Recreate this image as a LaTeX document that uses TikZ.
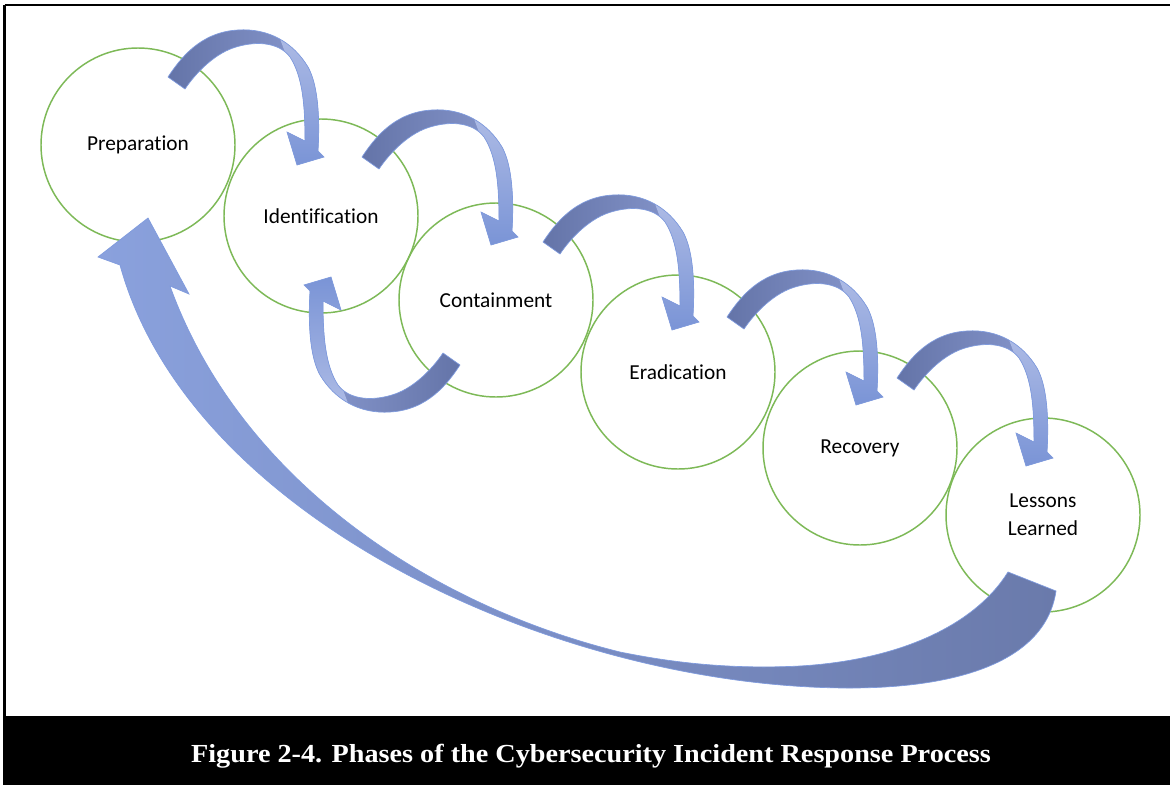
\documentclass[tikz,border=0pt]{standalone}
\usepackage{fontspec}
\setmainfont{Carlito}[Ligatures=NoCommon]
\newfontfamily\capfont{Liberation Serif}
\definecolor{ringgreen}{HTML}{7DB957}
\definecolor{bandedge}{HTML}{7F9BDE}
\definecolor{bandA}{HTML}{6474A8}
\definecolor{bandB}{HTML}{8A9AD0}
\definecolor{bandC}{HTML}{B0BDE6}
\definecolor{bandD}{HTML}{7A94D6}
\definecolor{bigL}{HTML}{8AA1DD}
\definecolor{bigR}{HTML}{6A7AAB}

% outline of one curved phase arrow, in pixel offsets from its tail corner
\newcommand\bandpath{(0,0) .. controls (12,-18) and (32,-45) .. (70,-47)
  .. controls (100,-49) and (125,-35) .. (140,-10)
  .. controls (150,8) and (152,40) .. (150,74)
  -- (156,80) -- (129,88) -- (119,55) -- (137,64)
  .. controls (137,30) and (135,0) .. (122,-20)
  .. controls (110,-36) and (85,-36) .. (65,-29)
  .. controls (45,-22) and (27,-3) .. (17,12) -- cycle}

% #1 tail corner, #2 rotation, #3 shading of the rear part, #4 shading of the front part
\newcommand\phasearrow[4]{%
  \begin{scope}[shift={#1}, rotate=#2]
    \shade[#3] \bandpath;
    \begin{scope}
      \clip (104,-60) -- (200,-60) -- (200,120) -- (100,120) -- (100,20) -- (118,-22) -- cycle;
      \shade[#4] \bandpath;
    \end{scope}
    \draw[bandline] \bandpath;
  \end{scope}}

\begin{document}
\begin{tikzpicture}[x=0.75pt, y=-0.75pt,
  phase/.style={circle, draw=ringgreen, line width=1.1pt, minimum size=145.5pt,
    inner sep=0pt, align=center, font=\fontsize{16}{21}\selectfont},
  bandline/.style={draw=bandedge, line width=0.5pt},
  reardown/.style={left color=bandA, right color=bandB},
  frontdown/.style={top color=bandC, bottom color=bandD},
  rearup/.style={left color=bandB, right color=bandA},
  frontup/.style={top color=bandD, bottom color=bandC},
  bigband/.style={left color=bigL, right color=bigR, draw=bandedge, line width=0.5pt}]

\useasboundingbox (0,0) rectangle (1170,785);
\fill[white] (0,0) rectangle (1170,785);

% frame and caption bar
\draw[line width=2.2pt] (4.5,5) -- (1170,5);
\draw[line width=2.2pt] (4.5,5) -- (4.5,716);
\fill[black] (3,716) rectangle (1170,785);
\node[anchor=base, text=white, font=\capfont\bfseries\fontsize{19.5}{23}\selectfont]
  (caption) at (591,762) {\scalebox{1.085}[1]{Figure 2-4. Phases of the Cybersecurity Incident Response Process}};

% phases
\node[phase] (prep) at (138,145) {Preparation};
\node[phase] (ident) at (321,216) {Identification};
\node[phase] (cont) at (496,300) {Containment};
\node[phase] (erad) at (678,372) {Eradication};
\node[phase] (recov) at (860,448) {Recovery};
\node[phase] (lessons) at (1043,515) {Lessons\\Learned};

% tail corners of the curved arrows
\coordinate (a1) at (168,77);
\coordinate (a2) at (362,157);
\coordinate (a3) at (543,242);
\coordinate (a4) at (727,317);
\coordinate (a5) at (897,378);
\coordinate (back) at (460,365);

\phasearrow{(a1)}{0}{reardown}{frontdown}
\phasearrow{(a2)}{0}{reardown}{frontdown}
\phasearrow{(a3)}{0}{reardown}{frontdown}
\phasearrow{(a4)}{0}{reardown}{frontdown}
\phasearrow{(a5)}{0}{reardown}{frontdown}
\phasearrow{(back)}{180}{rearup}{frontup}

% long return arrow from Lessons Learned back to Preparation
\coordinate (tailout) at (1056,591);
\coordinate (tailin) at (1008,572);
\coordinate (tip) at (148,218);
\shade[bigband] (tailout) .. controls (1045,665) and (950,688) .. (850,688)
  .. controls (560,688) and (190,520) .. (120,265)
  -- (98,257) -- (tip) -- (189,294) -- (170,286)
  .. controls (240,480) and (430,605) .. (620,652)
  .. controls (660,660) and (720,670) .. (800,666)
  .. controls (900,660) and (975,625) .. (tailin) -- cycle;
\end{tikzpicture}
\end{document}
